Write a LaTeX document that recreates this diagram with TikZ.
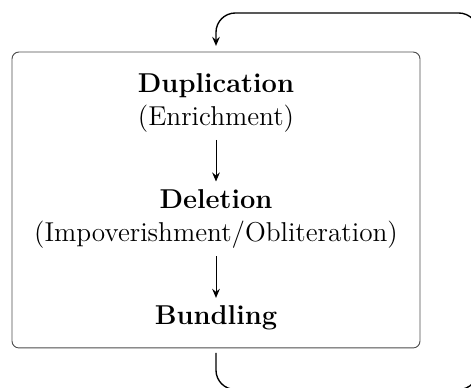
\documentclass[tikz,border=0pt]{standalone}
\usetikzlibrary{positioning,arrows.meta}

\begin{document}
\begin{tikzpicture}[x=0.44pt, y=-0.44pt, node distance={18.3pt},
  font=\fontsize{12}{14.5}\selectfont,
  >={Stealth[length=4pt, width=3.4pt, inset=1.4pt]},
  stage/.style = {align=center},
  frame/.style = {draw=black!70, rounded corners=3pt, minimum width=179.5pt, minimum height=130.2pt},
  cycle/.style = {->, semithick, rounded corners=8.5pt}]
\useasboundingbox (0,0) rectangle (471,388);
\clip (0,0) rectangle (471,388);
\node[frame] (box) at (216,200) {};
\node[stage] (dup) at (216,102.5) {\textbf{Duplication}\\(Enrichment)};
\node[stage] (del) [below=of dup] {\textbf{Deletion}\\(Impoverishment/Obliteration)};
\node[stage] (bund) [below=of del] {\textbf{Bundling}};
\draw[->] (dup) -- (del);
\draw[->] (del) -- (bund);
% back to the top
\draw[cycle] ([yshift=-2pt]box.south) -- (216,389.5) -- (478,389.5) -- (478,13) -- (216,13) -- ([yshift=2.5pt]box.north);
\end{tikzpicture}
\end{document}
